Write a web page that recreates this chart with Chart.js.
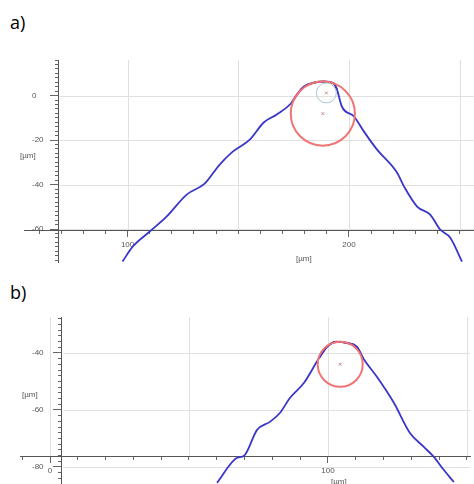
<!DOCTYPE html>
<html>
<head>
<meta charset="utf-8">
<script src="https://cdn.jsdelivr.net/npm/chart.js@4.4.1/dist/chart.umd.min.js"></script>
<style>
  body { margin: 0; background: #fff; width: 474px; height: 484px; position: relative; overflow: hidden; }
  .tag { position: absolute; left: 10px; font: 18px "Open Sans", "Noto Sans", sans-serif; color: #000; line-height: 20px; }
  canvas { position: absolute; left: 0; }
</style>
</head>
<body>
<div class="tag" style="top:12px">a)</div>
<div class="tag" style="top:282px">b)</div>
<canvas id="chartA" width="474" height="270" style="top:0"></canvas>
<canvas id="chartB" width="474" height="214" style="top:270px"></canvas>
<script>
const profileAX = [97.7, 102.3, 110.0, 117.6, 126.7, 134.8, 141.6, 147.5, 155.2, 161.5, 167.4, 174.2, 176.5, 179.6, 184.2, 188.7, 193.2, 194.6, 196.8, 202.3, 206.8, 212.7, 221.7, 224.9, 230.8, 236.7, 241.2, 245.7, 251.1];
const profileAY = [-74.6, -67.9, -61.1, -54.4, -44.5, -39.6, -31.0, -25.2, -19.8, -12.1, -8.5, -3.1, 0.4, 4.0, 5.8, 6.3, 5.4, 2.7, -4.9, -9.4, -16.2, -24.3, -34.6, -40.9, -49.9, -53.5, -60.2, -63.8, -74.6];
const fitRangeA = [174, 194.6];
// fitted circles: big (red) and small (cyan)
const circleAX = [188.2, 189.8];
const circleAY = [-8.1, 1.2];
const circleAR = [14.5, 4.5];
const xLabelsA = [100, 200];
const yLabelsA = [0, -20, -40, -60];

// Panel b
const profileBX = [60.1, 67.3, 69.8, 74.5, 79.1, 82.7, 86.3, 91.4, 96.8, 99.6, 103.2, 106.8, 110.4, 112.6, 117.6, 123.7, 129.5, 134.5, 138.1, 141.7, 145.3];
const profileBY = [-85.6, -76.8, -76.1, -67.0, -64.2, -61.1, -55.8, -50.5, -41.8, -37.9, -36.1, -36.5, -37.9, -41.8, -48.4, -57.5, -68.1, -73.0, -76.5, -81.1, -85.3];
const fitRangeB = [96.8, 112.6];
const circleBX = [104.4];
const circleBY = [-44.0];
const circleBR = [8.1];
const xLabelsB = [0, 100];
const yLabelsB = [-40, -60, -80];

const toPoints = (xs, ys) => xs.map((x, i) => ({ x: x, y: ys[i] }));

const decor = {
  id: 'decor',
  beforeDraw(chart, args, opts) {
    const { ctx, chartArea } = chart;
    const xs = chart.scales.x, ys = chart.scales.y;
    const ax = Math.round(xs.getPixelForValue(opts.yAxisAt)) + 0.5;
    const ay = Math.round(ys.getPixelForValue(opts.xAxisAt)) + 0.5;
    ctx.save();
    ctx.strokeStyle = '#e0e0e0';
    ctx.lineWidth = 1;
    ctx.beginPath();
    xs.ticks.forEach(t => {
      const px = Math.round(xs.getPixelForValue(t.value)) + 0.5;
      ctx.moveTo(px, chartArea.top);
      ctx.lineTo(px, ay);
    });
    ys.ticks.forEach(t => {
      const py = Math.round(ys.getPixelForValue(t.value)) + 0.5;
      ctx.moveTo(ax + 1, py);
      ctx.lineTo(chartArea.right, py);
    });
    ctx.stroke();
    ctx.restore();
  },
  afterDatasetsDraw(chart, args, opts) {
    const { ctx } = chart;
    const xs = chart.scales.x, ys = chart.scales.y;
    ctx.save();
    opts.circles.forEach(c => {
      const cx = xs.getPixelForValue(c.x);
      const cy = ys.getPixelForValue(c.y);
      const r = Math.abs(xs.getPixelForValue(c.x + c.r) - cx);
      ctx.strokeStyle = c.color;
      ctx.lineWidth = c.width;
      ctx.beginPath();
      ctx.arc(cx, cy, r, 0, Math.PI * 2);
      ctx.stroke();
    });
    ctx.fillStyle = '#555';
    ctx.font = '8px "Liberation Sans", Arial, sans-serif';
    ctx.textAlign = 'left';
    ctx.textBaseline = 'middle';
    ys.ticks.forEach(t => {
      if (opts.yLabels.includes(t.value)) {
        ctx.fillText(String(t.value), opts.yLabelLeft, ys.getPixelForValue(t.value));
      }
    });
    ctx.fillText('[µm]', opts.yTitle[0], opts.yTitle[1]);
    ctx.fillText('[µm]', opts.xTitle[0], opts.xTitle[1]);
    ctx.restore();
  }
};

function makeChart(id, p) {
  const fit = toPoints(p.px, p.py).filter(pt => pt.x >= p.fitRange[0] && pt.x <= p.fitRange[1]);
  const tickFont = { family: '"Liberation Sans", Arial, sans-serif', size: 8 };
  return new Chart(document.getElementById(id), {
    type: 'scatter',
    data: {
      datasets: [
        {
          data: toPoints(p.px, p.py), showLine: true, borderColor: '#3a36c8', borderWidth: 1.8,
          pointRadius: 0, cubicInterpolationMode: 'monotone'
        },
        {
          data: fit, showLine: true, borderColor: '#8e2a68', borderWidth: 2,
          pointRadius: 0, cubicInterpolationMode: 'monotone'
        },
        {
          data: toPoints(p.cx, p.cy), pointStyle: 'crossRot', pointRadius: 2,
          borderColor: '#c98a8a', borderWidth: 1
        }
      ]
    },
    options: {
      responsive: false,
      animation: false,
      layout: { padding: p.padding, autoPadding: false },
      plugins: {
        legend: { display: false },
        tooltip: { enabled: false },
        decor: {
          xAxisAt: p.xAxisAt, yAxisAt: p.yAxisAt, yLabels: p.yLabels, yLabelLeft: 32,
          yTitle: p.yTitle, xTitle: p.xTitle,
          circles: p.cx.map((x, i) => ({ x: x, y: p.cy[i], r: p.cr[i], color: i === 0 ? '#ef7474' : '#a8c6d4', width: i === 0 ? 2 : 1 }))
        }
      },
      scales: {
        x: {
          type: 'linear', min: p.xMin, max: p.xMax, position: { y: p.xAxisAt },
          border: { color: '#555' },
          grid: { drawOnChartArea: false, tickLength: 6, tickColor: c => p.xLabels.includes(c.tick.value) ? '#666' : 'rgba(0,0,0,0)' },
          ticks: { stepSize: 50, includeBounds: false, autoSkip: false, maxRotation: 0, color: '#555', font: tickFont, padding: 3,
                   callback: v => p.xLabels.includes(v) ? String(v) : '' }
        },
        x2: {
          type: 'linear', min: p.xMin, max: p.xMax, position: { y: p.xAxisAt },
          border: { color: '#555' },
          grid: { drawOnChartArea: false, tickLength: 3, tickColor: '#666' },
          ticks: { stepSize: 10, includeBounds: false, autoSkip: false, display: false }
        },
        y: {
          type: 'linear', min: p.yMin, max: p.yMax, position: { x: p.yAxisAt },
          border: { color: '#555' },
          grid: { drawOnChartArea: false, tickLength: 8, tickColor: '#666' },
          ticks: { stepSize: 20, includeBounds: false, autoSkip: false, display: false }
        },
        y2: {
          type: 'linear', min: p.yMin, max: p.yMax, position: { x: p.yAxisAt },
          border: { color: '#555' },
          grid: { drawOnChartArea: false, tickLength: 3, tickColor: '#666' },
          ticks: { stepSize: 2, includeBounds: false, autoSkip: false, display: false }
        }
      }
    },
    plugins: [decor]
  });
}

window.addEventListener('load', () => {
  makeChart('chartA', {
    px: profileAX, py: profileAY, fitRange: fitRangeA,
    cx: circleAX, cy: circleAY, cr: circleAR,
    xLabels: xLabelsA, yLabels: yLabelsA,
    xMin: 53.2, xMax: 256.5, yMin: -74.8, yMax: 16,
    xAxisAt: -60.7, yAxisAt: 68.6,
    padding: { left: 24, right: 0, top: 60, bottom: 8 },
    yTitle: [20, 156], xTitle: [296, 259]
  });
  makeChart('chartB', {
    px: profileBX, py: profileBY, fitRange: fitRangeB,
    cx: circleBX, cy: circleBY, cr: circleBR,
    xLabels: xLabelsB, yLabels: yLabelsB,
    xMin: -10.8, xMax: 151.1, yMin: -86, yMax: -27.4,
    xAxisAt: -76.5, yAxisAt: 4.3,
    padding: { left: 20, right: 4, top: 47, bottom: 0 },
    yTitle: [22, 125], xTitle: [331, 212]
  });
});
</script>
</body>
</html>
